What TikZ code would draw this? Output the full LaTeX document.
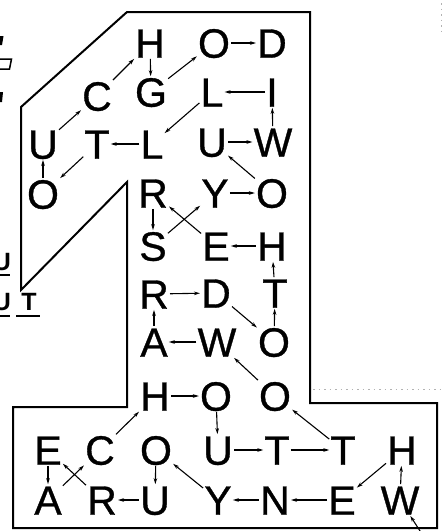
\documentclass[tikz,border=0pt]{standalone}
\usepackage{fontspec}
\setmainfont{Liberation Sans}
\newfontfamily\ltrfont[FakeBold=0.8]{Liberation Sans}
\usetikzlibrary{arrows.meta}
\begin{document}
\begin{tikzpicture}[x=1pt,y=-1pt,
  ltr/.style={font=\ltrfont\fontsize{41}{41}\selectfont, inner sep=1pt, text height=29.4pt, text depth=0pt},
  arr/.style={line width=1.1pt, -{Stealth[length=6pt,width=3.6pt]}},
  outline/.style={line width=2pt, line join=miter},
  frag/.style={font=\fontsize{25}{25}\selectfont\bfseries, inner sep=0pt, text height=17pt, text depth=0pt},
  uline/.style={line width=1.2pt},
  artifact/.style={gray!60, line width=0.8pt, dash pattern=on 1.5pt off 4pt}]
\useasboundingbox (0,0) rectangle (443,531);
% outline of the figure 1
\draw[outline] (127,12) -- (310,12) -- (310,403) -- (437,403) -- (437,528) -- (13,528) -- (13,407) -- (127,407) -- (127,182) -- (21,290) -- (21,107) -- cycle;
% scan artifacts
\draw[artifact] (313,389) -- (443,389);
\draw[artifact] (441,3) -- (441,35);
% cut-off fragments at the left edge
\fill (0,36) -- (3.5,36) -- (2,45) -- (0,45) -- cycle;
\draw[line width=1.5pt] (0,59) -- (11.5,59) -- (9.5,69) -- (0,69);
\fill (0,92) -- (3,92) -- (2,102) -- (0,102) -- cycle;
\node[frag] (fu1) at (2,262) {U};
\draw[uline] (0,275) -- (10,275);
\node[frag] (fu2) at (2,302) {U};
\node[frag] (ft) at (29,302) {T};
\draw[uline] (0,316) -- (10,316);
\draw[uline] (16,316) -- (40,316);
% letters
\node[ltr] (h1) at (150,43) {H};
\node[ltr] (o1) at (214,43) {O};
\node[ltr] (d1) at (272,43) {D};
\node[ltr] (c2) at (97,96) {C};
\node[ltr] (g2) at (151,92) {G};
\node[ltr] (l2) at (212,92) {L};
\node[ltr] (i2) at (272,92) {I};
\node[ltr] (u3) at (43,144) {U};
\node[ltr] (t3) at (97,144) {T};
\node[ltr] (l3) at (152,144) {L};
\node[ltr] (u3b) at (212,142) {U};
\node[ltr] (w3) at (273,142) {W};
\node[ltr] (o4) at (43,194) {O};
\node[ltr] (r4) at (153,193) {R};
\node[ltr] (y4) at (215,193) {Y};
\node[ltr] (o4b) at (272,193) {O};
\node[ltr] (s5) at (153,246) {S};
\node[ltr] (e5) at (216,246) {E};
\node[ltr] (h5) at (272,246) {H};
\node[ltr] (r6) at (154,294) {R};
\node[ltr] (d6) at (216,293) {D};
\node[ltr] (t6) at (275,293) {T};
\node[ltr] (a7) at (154,342) {A};
\node[ltr] (w7) at (217,342) {W};
\node[ltr] (o7) at (274,342) {O};
\node[ltr] (h8) at (155,396) {H};
\node[ltr] (o8) at (216,396) {O};
\node[ltr] (o8b) at (275,396) {O};
\node[ltr] (e9) at (48,450) {E};
\node[ltr] (c9) at (100,450) {C};
\node[ltr] (o9) at (156,450) {O};
\node[ltr] (u9) at (218,450) {U};
\node[ltr] (t9) at (277,450) {T};
\node[ltr] (t9b) at (343,450) {T};
\node[ltr] (h9) at (402,450) {H};
\node[ltr] (a10) at (48,500) {A};
\node[ltr] (r10) at (102,500) {R};
\node[ltr] (u10) at (155,500) {U};
\node[ltr] (y10) at (218,500) {Y};
\node[ltr] (n10) at (275,500) {N};
\node[ltr] (e10) at (342,500) {E};
\node[ltr] (w10) at (400,500) {W};
\coordinate (start) at (422,534);
% connectors
\draw[arr] (start) -- (w10);
\draw[arr] (w10) -- (h9);
\draw[arr] (h9) -- (e10);
\draw[arr] (e10) -- (n10);
\draw[arr] (n10) -- (y10);
\draw[arr] (y10) -- (o9);
\draw[arr] (o9) -- (u10);
\draw[arr] (u10) -- (r10);
\draw[arr] (r10) -- (e9);
\draw[arr] (e9) -- (a10);
\draw[arr] (a10) -- (c9);
\draw[arr] (c9) -- (h8);
\draw[arr] (h8) -- (o8);
\draw[arr] (o8) -- (u9);
\draw[arr] (u9) -- (t9);
\draw[arr] (t9) -- (t9b);
\draw[arr] (t9b) -- (o8b);
\draw[arr] (o8b) -- (w7);
\draw[arr] (w7) -- (a7);
\draw[arr] (a7) -- (r6);
\draw[arr] (r6) -- (d6);
\draw[arr] (d6) -- (o7);
\draw[arr] (o7) -- (t6);
\draw[arr] (t6) -- (h5);
\draw[arr] (h5) -- (e5);
\draw[arr] (e5) -- (r4);
\draw[arr] (r4) -- (s5);
\draw[arr] (s5) -- (y4);
\draw[arr] (y4) -- (o4b);
\draw[arr] (o4b) -- (u3b);
\draw[arr] (u3b) -- (w3);
\draw[arr] (w3) -- (i2);
\draw[arr] (i2) -- (l2);
\draw[arr] (l2) -- (l3);
\draw[arr] (l3) -- (t3);
\draw[arr] (t3) -- (o4);
\draw[arr] (o4) -- (u3);
\draw[arr] (u3) -- (c2);
\draw[arr] (c2) -- (h1);
\draw[arr] (h1) -- (g2);
\draw[arr] (g2) -- (o1);
\draw[arr] (o1) -- (d1);
\end{tikzpicture}
\end{document}
